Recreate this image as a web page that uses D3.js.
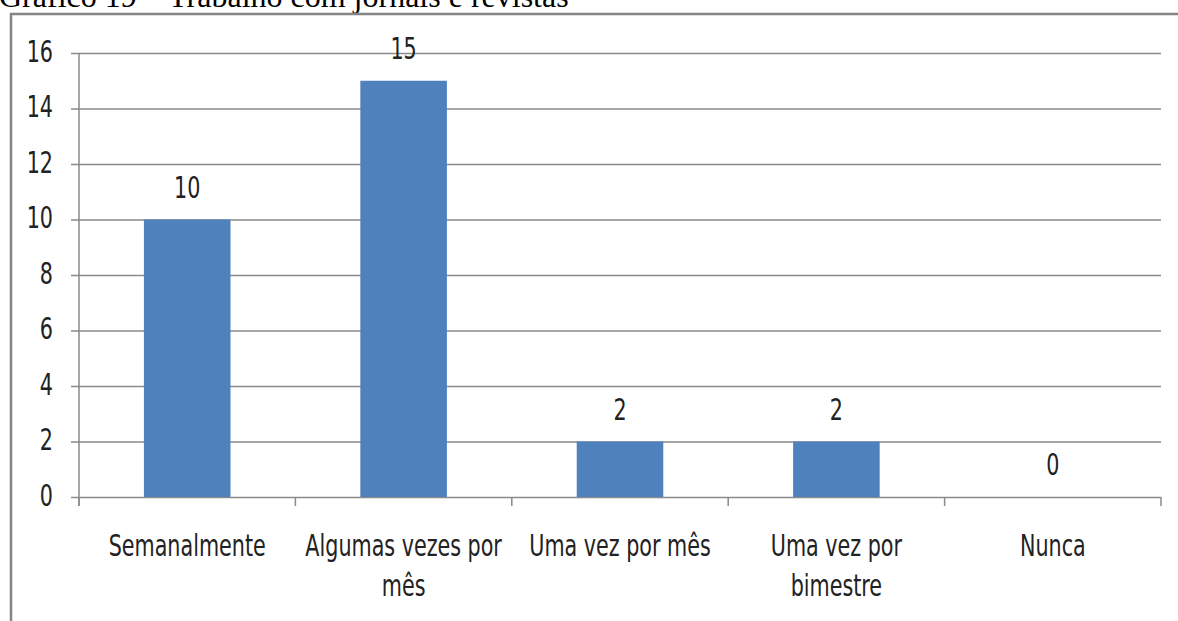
<!DOCTYPE html>
<html>
<head>
<meta charset="utf-8">
<script src="https://cdn.jsdelivr.net/npm/d3@7"></script>
<style>
  body { margin: 0; background: #fff; }
  svg text { fill: #222; }
</style>
</head>
<body>
<div id="chart"></div>
<script>
// chart values
const categories = ["Semanalmente", "Algumas vezes por mês", "Uma vez por mês", "Uma vez por bimestre", "Nunca"]
const labelLines = [["Semanalmente"], ["Algumas vezes por", "mês"], ["Uma vez por mês"], ["Uma vez por", "bimestre"], ["Nunca"]]
const values = [10, 15, 2, 2, 0]
const yTicks = [0, 2, 4, 6, 8, 10, 12, 14, 16]
const title = "Gráfico 19 – Trabalho com jornais e revistas"

const W = 1178, H = 621
const margin = {top: 53, right: 17, bottom: 124, left: 79}
const width = W - margin.left - margin.right
const height = H - margin.top - margin.bottom

const labelFont = "'Liberation Sans Narrow', 'DejaVu Sans Condensed', 'Open Sans', sans-serif"
const fontSize = 23
const stretch = 1.28

const svg = d3.select("#chart").append("svg")
    .attr("width", W)
    .attr("height", H)

// title, cut at the top of the page
svg.append("text")
    .attr("x", -1)
    .attr("y", 7)
    .attr("font-family", "'Liberation Serif', 'Times New Roman', serif")
    .attr("font-size", 32)
    .style("fill", "#000")
    .text(title)

// frame round the chart
svg.append("path")
    .attr("d", "M11,621 V14 H1178")
    .attr("fill", "none")
    .attr("stroke", "#858585")
    .attr("stroke-width", 2.5)

const g = svg.append("g")
    .attr("transform", "translate(" + margin.left + "," + margin.top + ")")

const x = d3.scaleBand()
    .domain(categories)
    .range([0, width])
    .paddingInner(0.6)
    .paddingOuter(0.3)

const y = d3.scaleLinear()
    .domain([0, 16])
    .range([height, 0])

// gridlines + y ticks
const yAxis = g.append("g")
    .call(d3.axisLeft(y).tickValues(yTicks).tickSize(8).tickFormat(d3.format("d")))
yAxis.select(".domain").remove()
yAxis.selectAll(".tick line").attr("stroke", "#8a8a8a").attr("stroke-width", 1.5)
yAxis.selectAll(".tick")
    .append("line")
    .attr("x1", 0)
    .attr("x2", width)
    .attr("stroke", "#8a8a8a")
    .attr("stroke-width", 1.5)
yAxis.selectAll(".tick text")
    .attr("x", -26)
    .attr("dy", null)
    .attr("font-family", labelFont)
    .attr("font-size", fontSize)
    .attr("transform", "scale(1," + stretch + ")")
    .attr("y", 8 / stretch)
    .style("fill", "#222")

// vertical axis line
g.append("line")
    .attr("x1", 0).attr("x2", 0)
    .attr("y1", 0).attr("y2", height + 9)
    .attr("stroke", "#8a8a8a")
    .attr("stroke-width", 1.5)

// category boundary ticks on the x axis
g.selectAll(".xtick")
    .data(d3.range(categories.length + 1))
    .join("line")
    .attr("class", "xtick")
    .attr("x1", i => i * width / categories.length)
    .attr("x2", i => i * width / categories.length)
    .attr("y1", height)
    .attr("y2", height + 9)
    .attr("stroke", "#8a8a8a")
    .attr("stroke-width", 1.5)

// bars
g.selectAll(".bar")
    .data(values)
    .join("rect")
    .attr("class", "bar")
    .attr("x", (d, i) => x(categories[i]))
    .attr("width", x.bandwidth())
    .attr("y", d => y(d))
    .attr("height", d => height - y(d))
    .attr("fill", "#4f81bd")

// value labels
g.selectAll(".val")
    .data(values)
    .join("text")
    .attr("class", "val")
    .attr("text-anchor", "middle")
    .attr("font-family", labelFont)
    .attr("font-size", fontSize)
    .attr("transform", (d, i) => "translate(" + (x(categories[i]) + x.bandwidth() / 2) + "," + (y(d) - 22) + ") scale(1," + stretch + ")")
    .text(d => d)

// category labels
const cat = g.selectAll(".cat")
    .data(labelLines)
    .join("text")
    .attr("class", "cat")
    .attr("text-anchor", "middle")
    .attr("font-family", labelFont)
    .attr("font-size", fontSize)
    .attr("transform", (d, i) => "translate(" + (x(categories[i]) + x.bandwidth() / 2) + "," + (height + 59) + ") scale(1," + stretch + ")")
cat.selectAll("tspan")
    .data(d => d)
    .join("tspan")
    .attr("x", 0)
    .attr("dy", (d, i) => i === 0 ? 0 : 40 / stretch)
    .text(d => d)
</script>
</body>
</html>
